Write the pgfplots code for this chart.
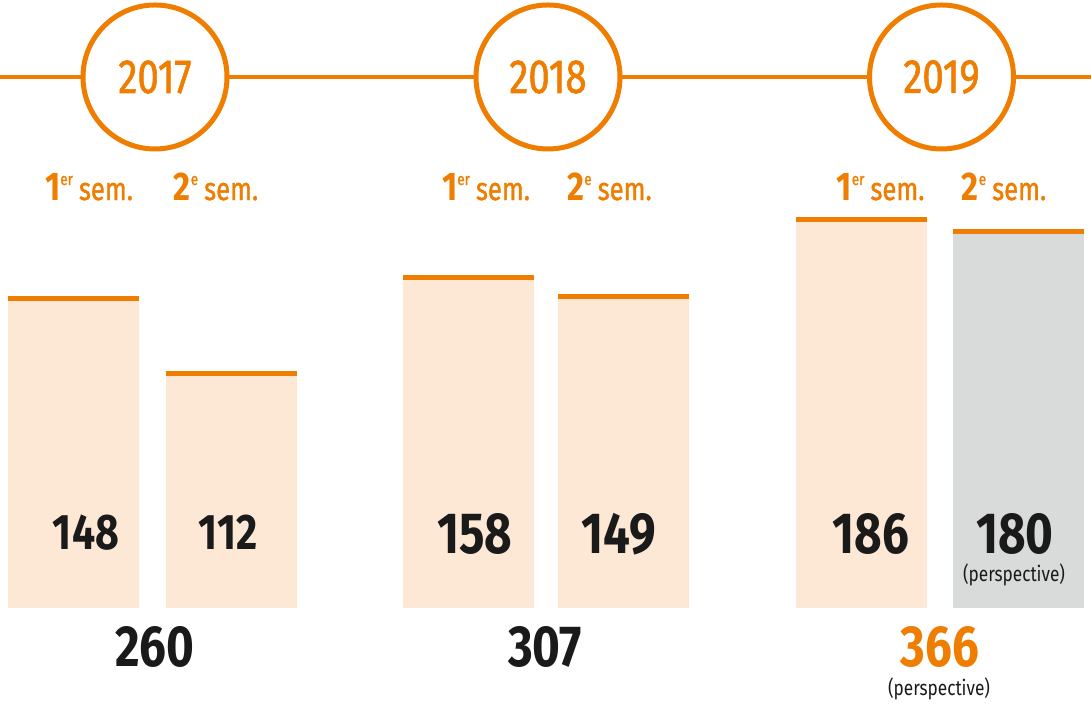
\documentclass[border=0pt]{standalone}
\usepackage{pgfplots}
\pgfplotsset{compat=1.18}
\usepackage{fontspec}
\setmainfont{Fira Sans}[FakeStretch=0.82]
\newfontfamily\medfont{Fira Sans}[FakeStretch=0.80, FakeBold=1.2]
\definecolor{org}{HTML}{EF7D00}
\definecolor{lfill}{HTML}{FDE8D6}
\definecolor{gfill}{HTML}{D9DBDA}
\definecolor{txt}{HTML}{1A1A1A}
\newcommand{\sem}[2]{\medfont\fontsize{32}{32}\selectfont{\rmfamily\bfseries\fontsize{40}{40}\selectfont #1}\raisebox{15pt}{\fontsize{17}{17}\selectfont #2}\hspace{6pt}sem.}
\begin{document}
\begin{tikzpicture}
\begin{axis}[scale only axis, width=1091pt, height=709pt,
  xmin=0, xmax=1091, ymin=-48.33, ymax=290.91,
  axis lines=none, clip=false]
% bars
\addplot[ybar, bar width=131, bar shift=0pt, fill=lfill, draw=none]
  coordinates {(73.5,148) (231.5,112) (468.5,158) (623.5,149) (861.5,186)};
\addplot[ybar, bar width=131, bar shift=0pt, fill=gfill, draw=none]
  coordinates {(1018.5,180)};
% orange caps
\addplot[only marks, mark=-, mark size=65.5pt, mark options={line width=5pt, draw=org}]
  coordinates {(73.5,148) (231.5,112) (468.5,158) (623.5,149) (861.5,186) (1018.5,180)};
% timeline
\draw[org, line width=4.5pt] (axis cs:0,254.07) -- (axis cs:1091,254.07);
\draw[org, line width=5pt, fill=white] (axis cs:155,254.07) circle[radius=72pt];
\draw[org, line width=5pt, fill=white] (axis cs:548,254.07) circle[radius=72pt];
\draw[org, line width=5pt, fill=white] (axis cs:941.5,254.07) circle[radius=72pt];
\node[org, font=\medfont\fontsize{48}{48}\selectfont] at (axis cs:155,254.07) {2017};
\node[org, font=\medfont\fontsize{48}{48}\selectfont] at (axis cs:548,254.07) {2018};
\node[org, font=\medfont\fontsize{48}{48}\selectfont] at (axis cs:941.5,254.07) {2019};
% semester labels
\node[org, anchor=base, inner sep=0pt] at (axis cs:89,195.2) {\sem{1}{er}};
\node[org, anchor=base, inner sep=0pt] at (axis cs:216,195.2) {\sem{2}{e}};
\node[org, anchor=base, inner sep=0pt] at (axis cs:486,195.2) {\sem{1}{er}};
\node[org, anchor=base, inner sep=0pt] at (axis cs:609.5,195.2) {\sem{2}{e}};
\node[org, anchor=base, inner sep=0pt] at (axis cs:880.5,195.2) {\sem{1}{er}};
\node[org, anchor=base, inner sep=0pt] at (axis cs:1004,195.2) {\sem{2}{e}};
% bar values
\node[txt, anchor=base, inner sep=0pt, font=\bfseries\fontsize{50}{50}\selectfont] at (axis cs:86,28.2) {148};
\node[txt, anchor=base, inner sep=0pt, font=\bfseries\fontsize{50}{50}\selectfont] at (axis cs:228,28.2) {112};
\node[txt, anchor=base, inner sep=0pt, font=\bfseries\fontsize{58}{58}\selectfont] at (axis cs:475,26.3) {158};
\node[txt, anchor=base, inner sep=0pt, font=\bfseries\fontsize{58}{58}\selectfont] at (axis cs:619,26.3) {149};
\node[txt, anchor=base, inner sep=0pt, font=\bfseries\fontsize{58}{58}\selectfont] at (axis cs:871,26.3) {186};
\node[txt, anchor=base, inner sep=0pt, font=\bfseries\fontsize{58}{58}\selectfont] at (axis cs:1015,26.3) {180};
\node[txt, inner sep=0pt, font=\fontsize{21}{21}\selectfont] at (axis cs:1014,15.8) {(perspective)};
% totals
\node[txt, anchor=base, inner sep=0pt, text depth=0pt, font=\bfseries\fontsize{58}{58}\selectfont] at (axis cs:155,-28.2) {260};
\node[txt, anchor=base, inner sep=0pt, text depth=0pt, font=\bfseries\fontsize{58}{58}\selectfont] at (axis cs:545,-28.2) {307};
\node[org, anchor=base, inner sep=0pt, text depth=0pt, font=\bfseries\fontsize{58}{58}\selectfont] at (axis cs:940,-28.2) {366};
\node[txt, inner sep=0pt, font=\fontsize{21}{21}\selectfont] at (axis cs:939,-38.6) {(perspective)};
\end{axis}
\pgfresetboundingbox
\path (0,0) rectangle (1091pt,709pt);
\end{tikzpicture}
\end{document}
